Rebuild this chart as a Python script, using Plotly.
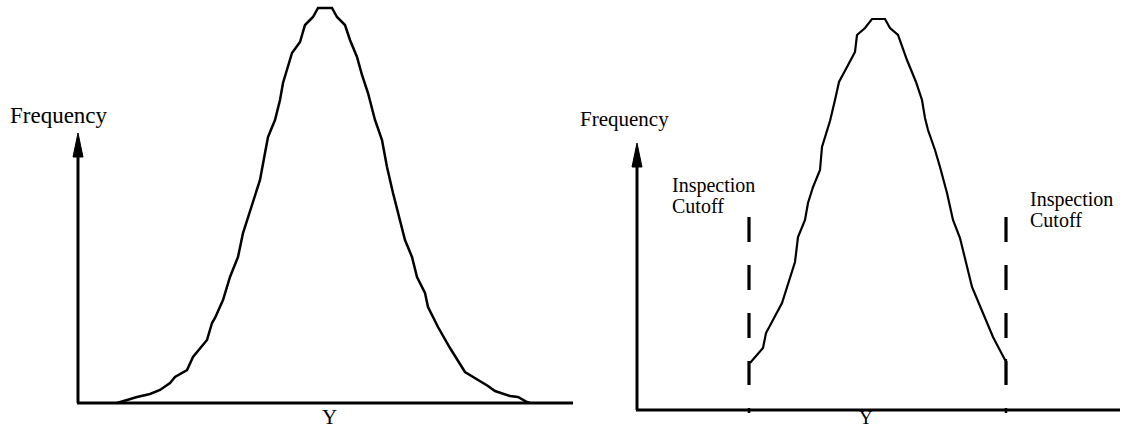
import plotly.graph_objects as go

# left panel: full distribution (Y offset from origin, frequency height)
full_y = [39, 59, 72, 82, 92, 97, 109, 115, 129, 134, 137, 145, 152, 160, 165, 175, 182,
          187, 190, 197, 202, 205, 214, 222, 227, 235, 240, 254, 259, 267, 272, 279, 284,
          290, 292, 297, 304, 309, 315, 322, 327, 334, 339, 347, 350, 355, 360, 372, 387,
          410, 417, 432, 440, 449, 452]
full_freq = [0, 6, 9, 13, 20, 26, 33, 46, 63, 80, 85, 103, 126, 146, 170, 200, 223,
             250, 266, 283, 303, 320, 350, 361, 378, 386, 395, 395, 386, 378, 363, 346, 328,
             310, 303, 283, 263, 236, 210, 183, 163, 146, 126, 110, 96, 86, 76, 55, 31,
             17, 12, 7, 6, 1, 0]

# right panel: distribution truncated at the inspection cutoffs
cut_y = [113, 126, 129, 145, 158, 161, 168, 171, 176, 183, 185, 193, 198, 202, 210, 218,
         220, 228, 235, 248, 253, 261, 270, 279, 285, 288, 291, 298, 303, 310, 316, 323,
         335, 346, 356, 368, 369, 369]
cut_freq = [47, 62, 77, 107, 148, 173, 190, 207, 223, 240, 263, 289, 310, 328, 343, 358,
            375, 382, 391, 391, 382, 375, 350, 328, 310, 292, 280, 260, 243, 217, 190, 172,
            123, 97, 73, 50, 50, 25]
cutoffs = [112, 369]
cutoff_span = [193, 25]
cutoff_labels = ["Inspection", "Cutoff"]

FONT = "Liberation Serif"
W, H = 1125, 429

fig = go.Figure()
fig.add_trace(go.Scatter(x=full_y, y=full_freq, mode="lines", xaxis="x", yaxis="y",
                         line=dict(color="black", width=2.5), cliponaxis=False))
fig.add_trace(go.Scatter(x=cut_y, y=cut_freq, mode="lines", xaxis="x2", yaxis="y2",
                         line=dict(color="black", width=2.2), cliponaxis=False))
for c in cutoffs:
    fig.add_trace(go.Scatter(x=[c, c], y=cutoff_span, mode="lines", xaxis="x2", yaxis="y2",
                             line=dict(color="black", width=3.2, dash="25px,23px"),
                             cliponaxis=False))

# 1 data unit = 1 px; origins at (78,403) and (637,410)
split = 600
fig.update_layout(
    width=W, height=H, margin=dict(l=0, r=0, t=0, b=0),
    paper_bgcolor="white", plot_bgcolor="white", showlegend=False,
    xaxis=dict(domain=[0, split / W], range=[-78, split - 78], visible=False),
    yaxis=dict(domain=[0, 1], range=[-(H - 403), 403], visible=False),
    xaxis2=dict(domain=[split / W, 1], range=[split - 637, W - 637], visible=False),
    yaxis2=dict(domain=[0, 1], range=[-(H - 410), 410], anchor="x2", visible=False),
)


def axes(xr, yr, x_end, tip, base):
    ax = dict(xref=xr, yref=yr, line=dict(color="black", width=3))
    fig.add_shape(type="line", x0=-1, y0=0, x1=x_end, y1=0, **ax)
    fig.add_shape(type="line", x0=0, y0=0, x1=0, y1=base, **ax)
    fig.add_shape(type="path", xref=xr, yref=yr, fillcolor="black",
                  line=dict(color="black", width=1),
                  path=f"M -5 {base} L 0 {tip} L 5 {base} Z")


axes("x", "y", 495, 270, 246)
axes("x2", "y2", 483, 267, 243)
for c in cutoffs:
    fig.add_shape(type="line", xref="x2", yref="y2", x0=c, x1=c, y0=-3, y1=2,
                  line=dict(color="black", width=2.5))


def label(x, y, ref, text, size, **kw):
    fig.add_annotation(x=x, y=y, xref="x" + ref, yref="y" + ref, text=text,
                       showarrow=False, font=dict(family=FONT, size=size, color="black"),
                       **kw)


label(-19, 288, "", "Frequency", 23)
label(251, -14, "", "Y", 21)
label(-13, 291, "2", "Frequency", 21)
label(229, -7, "2", "Y", 19, yshift=0)
for x0, ys in [(33, [225, 204]), (391, [211, 190])]:
    for lab, yy in zip(cutoff_labels, ys):
        label(x0, yy, "2", lab, 20, xanchor="left")

fig.write_html("out.html", config={"displayModeBar": False},
               post_script="document.body.style.margin='0';")
